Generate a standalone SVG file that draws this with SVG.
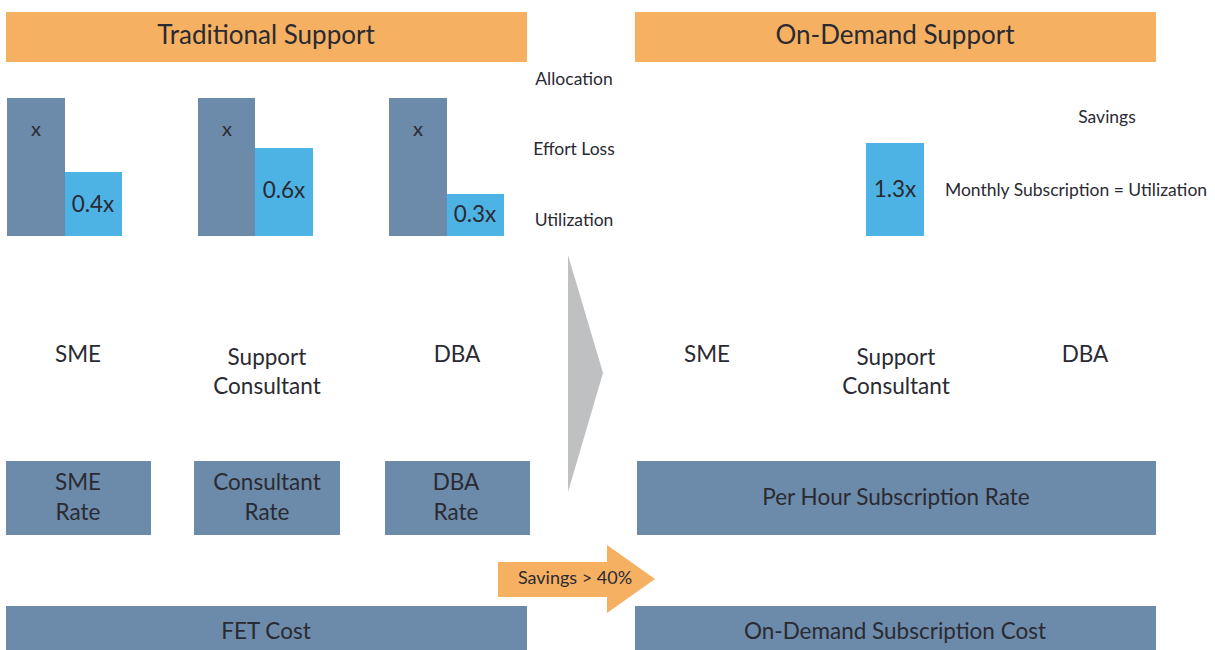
<svg xmlns="http://www.w3.org/2000/svg" width="1215" height="650" viewBox="0 0 1215 650">
<style>
text{font-family:"Source Sans Pro","Lato","Noto Sans","Liberation Sans",sans-serif;fill:#2a2a33;text-anchor:middle;dominant-baseline:central}
.hdr{fill:#f5b161}
.box{fill:#6c8aa9}
.util{fill:#4db3e4}
.h{font-size:26px}
.m{font-size:22.5px}
.s{font-size:17.5px}
</style>
<rect width="1215" height="650" fill="#ffffff"/>
<g id="traditional-header"><rect class="hdr" x="6" y="12" width="521" height="50"/><text class="h" x="266" y="34">Traditional Support</text></g>
<g id="ondemand-header"><rect class="hdr" x="635" y="12" width="521" height="50"/><text class="h" x="895" y="34">On-Demand Support</text></g>

<g id="sme-bars"><rect class="box" x="7" y="98" width="58" height="138"/><text class="m" x="36" y="128" style="font-size:20px">x</text><rect class="util" x="65" y="172" width="57" height="64"/><text class="m" x="93" y="203">0.4x</text></g>
<g id="consultant-bars"><rect class="box" x="198" y="98" width="57" height="138"/><text class="m" x="227" y="128" style="font-size:20px">x</text><rect class="util" x="255" y="148" width="58" height="88"/><text class="m" x="284" y="189">0.6x</text></g>
<g id="dba-bars"><rect class="box" x="389" y="98" width="58" height="138"/><text class="m" x="418" y="128" style="font-size:20px">x</text><rect class="util" x="447" y="194" width="57" height="42"/><text class="m" x="475" y="213">0.3x</text></g>

<g id="legend"><text class="s" x="574" y="78">Allocation</text><text class="s" x="574" y="148">Effort Loss</text><text class="s" x="574" y="219">Utilization</text></g>

<g id="ondemand-bar"><rect class="util" x="866" y="143" width="58" height="93"/><text class="m" x="895" y="188">1.3x</text></g>
<g id="savings-label"><text class="s" x="1107" y="116">Savings</text></g>
<g id="monthly-label"><text class="s" x="1076" y="189">Monthly Subscription = Utilization</text></g>

<g id="roles-left"><text class="m" x="78" y="353">SME</text><text class="m" x="267" y="356">Support</text><text class="m" x="267" y="385">Consultant</text><text class="m" x="457" y="353">DBA</text></g>
<g id="roles-right"><text class="m" x="707" y="353">SME</text><text class="m" x="896" y="356">Support</text><text class="m" x="896" y="385">Consultant</text><text class="m" x="1085" y="353">DBA</text></g>

<g id="sme-rate"><rect class="box" x="6" y="461" width="145" height="74"/><text class="m" x="78" y="481">SME</text><text class="m" x="78" y="511">Rate</text></g>
<g id="consultant-rate"><rect class="box" x="194" y="461" width="146" height="74"/><text class="m" x="267" y="481">Consultant</text><text class="m" x="267" y="511">Rate</text></g>
<g id="dba-rate"><rect class="box" x="385" y="461" width="145" height="74"/><text class="m" x="456" y="481">DBA</text><text class="m" x="456" y="511">Rate</text></g>
<g id="per-hour-rate"><rect class="box" x="637" y="461" width="519" height="74"/><text class="m" x="896" y="496">Per Hour Subscription Rate</text></g>

<g id="fet-cost"><rect class="box" x="6" y="606" width="521" height="50"/><text class="m" x="266" y="630">FET Cost</text></g>
<g id="ondemand-cost"><rect class="box" x="635" y="606" width="521" height="50"/><text class="m" x="895" y="630">On-Demand Subscription Cost</text></g>

<g id="connectors">
<polygon points="568,255 603,373 568,492" fill="#bfc0c2"/>
<polygon points="498,562 607,562 607,545 655,579 607,613 607,597 498,597" fill="#f5b161"/>
<text x="575" y="577" style="font-size:18px">Savings &gt; 40%</text>
</g>
</svg>
